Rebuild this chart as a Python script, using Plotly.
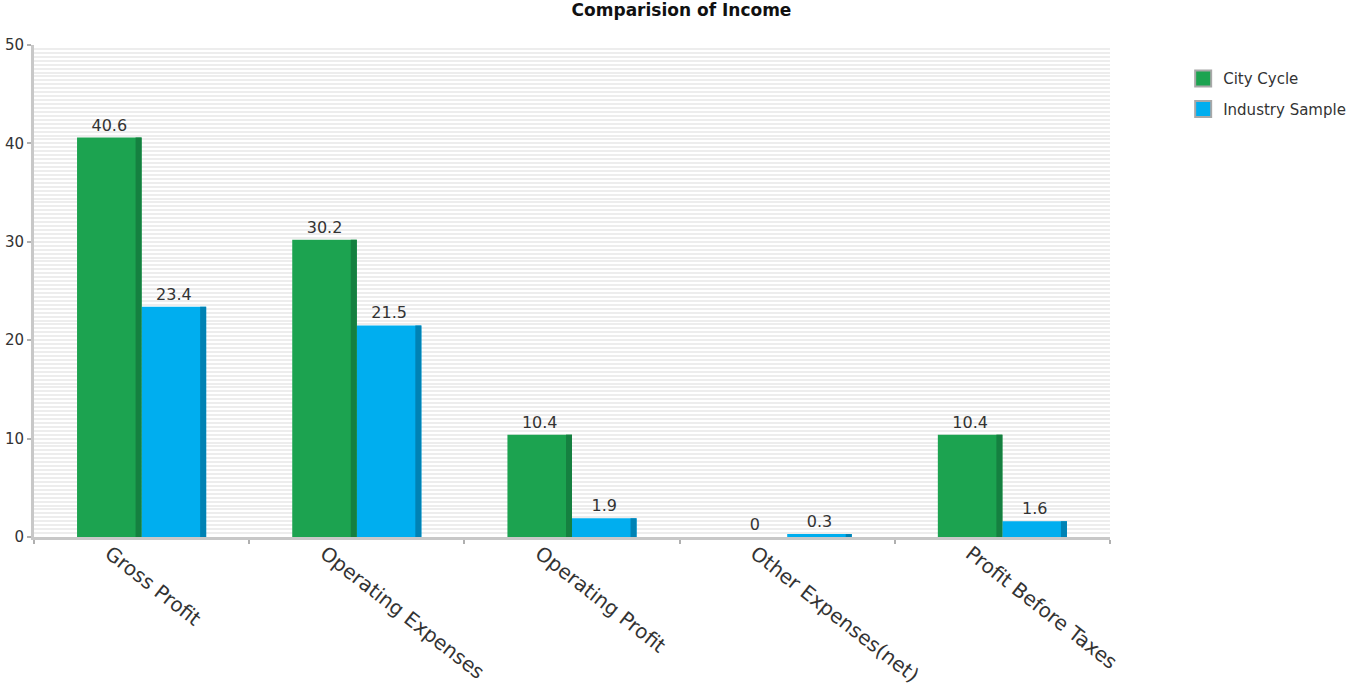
import plotly.graph_objects as go

categories = ["Gross Profit", "Operating Expenses", "Operating Profit",
              "Other Expenses(net)", "Profit Before Taxes"]
city_cycle = [40.6, 30.2, 10.4, 0, 10.4]
industry_sample = [23.4, 21.5, 1.9, 0.3, 1.6]

FONT = "DejaVu Sans"
GREEN, GREEN_DARK = "#1ca350", "#158040"
BLUE, BLUE_DARK = "#00aeef", "#0082b4"
BAR_W = 0.30
EDGE_W = 0.028
LABEL_FONT = dict(family=FONT, size=16, color="#333333")

fig = go.Figure()

# main bar faces with value labels
fig.add_trace(go.Bar(
    name="City Cycle", x=categories, y=city_cycle,
    offset=-BAR_W, width=BAR_W, marker=dict(color=GREEN, line=dict(width=0)),
    text=[f"{v:g}" for v in city_cycle], textposition="outside",
    textfont=LABEL_FONT, cliponaxis=False, showlegend=False,
))
fig.add_trace(go.Bar(
    name="Industry Sample", x=categories, y=industry_sample,
    offset=0, width=BAR_W, marker=dict(color=BLUE, line=dict(width=0)),
    text=[f"{v:g}" for v in industry_sample], textposition="outside",
    textfont=LABEL_FONT, cliponaxis=False, showlegend=False,
))
# darker right-hand edge for a bevelled look
fig.add_trace(go.Bar(
    x=categories, y=city_cycle, offset=-EDGE_W, width=EDGE_W,
    marker=dict(color=GREEN_DARK, line=dict(width=0)),
    showlegend=False, hoverinfo="skip",
))
fig.add_trace(go.Bar(
    x=categories, y=industry_sample, offset=BAR_W - EDGE_W, width=EDGE_W,
    marker=dict(color=BLUE_DARK, line=dict(width=0)),
    showlegend=False, hoverinfo="skip",
))

# legend entries with framed square swatches
for name, color in [("City Cycle", GREEN), ("Industry Sample", BLUE)]:
    fig.add_trace(go.Scatter(
        x=[None], y=[None], mode="markers", name=name, legendgroup=name,
        marker=dict(symbol="square", size=16, color=color,
                    line=dict(color="#a8a8a8", width=2)),
    ))

fig.update_layout(
    width=1363, height=692,
    barmode="overlay",
    paper_bgcolor="white", plot_bgcolor="white",
    margin=dict(l=34, r=253, t=45, b=155, autoexpand=False),
    font=dict(family=FONT, color="#333333"),
    title=dict(text="<b>Comparision of Income</b>", x=0.5, xanchor="center",
               y=0.985, yanchor="middle",
               font=dict(family=FONT, size=17, color="#111111")),
    legend=dict(x=1.068, y=0.965, xanchor="left", yanchor="top",
                font=dict(family=FONT, size=15, color="#333333"),
                itemsizing="trace", tracegroupgap=8, bgcolor="rgba(0,0,0,0)"),
    xaxis=dict(
        type="category", tickangle=38, tickson="boundaries",
        ticks="outside", ticklen=4, tickcolor="#b0b0b0", tickwidth=2,
        showline=True, linecolor="#c8c8c8", linewidth=3,
        showgrid=False, ticklabelshift=-32, ticklabelstandoff=-6,
        automargin=False,
        tickfont=dict(family=FONT, size=20, color="#333333"),
    ),
    yaxis=dict(
        range=[0, 50], dtick=10, tick0=0,
        ticks="outside", ticklen=4, tickcolor="#b0b0b0", tickwidth=2,
        showline=True, linecolor="#c8c8c8", linewidth=3,
        showgrid=True, gridcolor="#ededed", gridwidth=2,
        zeroline=False, automargin=False,
        tickfont=dict(family=FONT, size=15, color="#333333"),
        minor=dict(dtick=0.4, showgrid=True, gridcolor="#ededed", gridwidth=2),
    ),
)

fig.write_html("out.html")
